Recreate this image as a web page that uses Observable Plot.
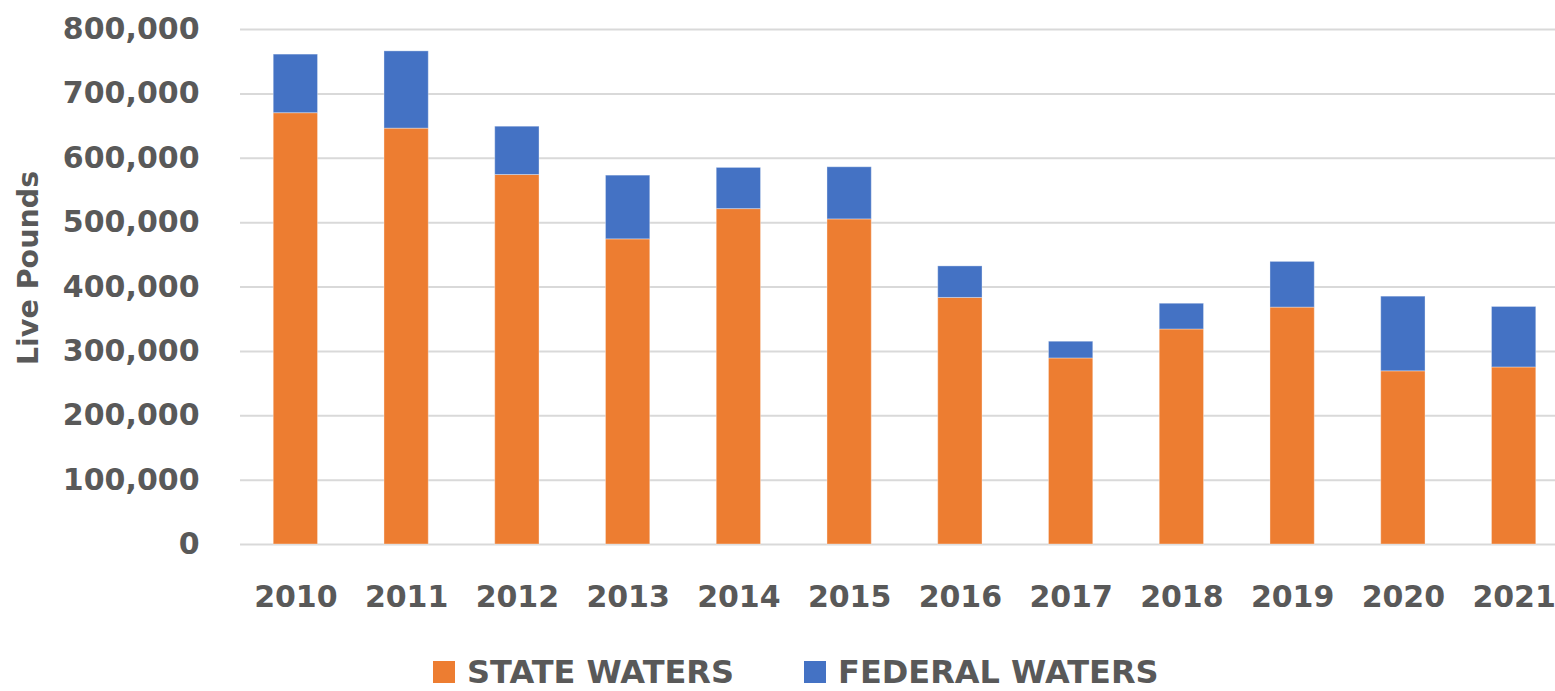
<!DOCTYPE html>
<html>
<head>
<meta charset="utf-8">
<script src="https://cdn.jsdelivr.net/npm/d3@7"></script>
<script src="https://cdn.jsdelivr.net/npm/@observablehq/plot@0.6"></script>
<style>
  html, body { margin: 0; padding: 0; background: #fff; }
  body { width: 1555px; height: 691px; overflow: hidden; font-family: "DejaVu Sans", sans-serif; }
  #legend { display: flex; align-items: center; height: 44px; padding-left: 433px; color: #595959; font-weight: bold; font-size: 32px; }
  .item { display: flex; align-items: center; margin-right: 70px; }
  .sw { width: 22px; height: 22px; margin-right: 12px; }
</style>
</head>
<body>
<div id="chart"></div>
<div id="legend"></div>
<script>
const years = ["2010","2011","2012","2013","2014","2015","2016","2017","2018","2019","2020","2021"];
const stateWaters = [670000, 646000, 574000, 474000, 521000, 505000, 383000, 289000, 334000, 368000, 269000, 275000];
const federalWaters = [91000, 120000, 75000, 99000, 64000, 81000, 49000, 26000, 40000, 71000, 116000, 94000];
const seriesNames = ["STATE WATERS", "FEDERAL WATERS"];
const seriesColors = ["#ED7D31", "#4472C4"];
const yTicks = [0, 100000, 200000, 300000, 400000, 500000, 600000, 700000, 800000];
const yLabel = "Live Pounds";

const data = [];
years.forEach((yr, i) => {
  data.push({year: yr, series: seriesNames[0], value: stateWaters[i]});
  data.push({year: yr, series: seriesNames[1], value: federalWaters[i]});
});

const chart = Plot.plot({
  width: 1555,
  height: 650,
  marginLeft: 240,
  marginRight: 0,
  marginTop: 29,
  marginBottom: 106,
  style: {fontFamily: "DejaVu Sans, sans-serif", color: "#595959", background: "#fff"},
  x: {domain: years, range: [240, 1569], paddingInner: 0.6, paddingOuter: 0.3, round: false},
  y: {domain: [0, 800000]},
  color: {domain: seriesNames, range: seriesColors},
  marks: [
    Plot.gridY(yTicks, {stroke: "#d9d9d9", strokeWidth: 2, strokeOpacity: 1}),
    Plot.barY(data, {x: "year", y: "value", fill: "series", order: seriesNames, stroke: "#ffffff", strokeOpacity: 0.35, strokeWidth: 1}),
    Plot.axisY({ticks: yTicks, tickFormat: d3.format(","), tickSize: 0, tickPadding: 41, fontSize: 30, fontWeight: "bold", label: null}),
    Plot.axisX({tickSize: 0, tickPadding: 41, fontSize: 30, fontWeight: "bold", label: null}),
    Plot.text([yLabel], {frameAnchor: "left", text: d => d, rotate: -90, dx: -212, dy: -19, fontSize: 28.5, fontWeight: "bold", fill: "#595959", textAnchor: "middle", lineAnchor: "middle"})
  ]
});
document.getElementById("chart").appendChild(chart);

const legend = document.getElementById("legend");
seriesNames.forEach((name, i) => {
  const item = document.createElement("div");
  item.className = "item";
  const sw = document.createElement("span");
  sw.className = "sw";
  sw.style.background = seriesColors[i];
  const t = document.createElement("span");
  t.textContent = name;
  item.appendChild(sw);
  item.appendChild(t);
  legend.appendChild(item);
});
</script>
</body>
</html>
